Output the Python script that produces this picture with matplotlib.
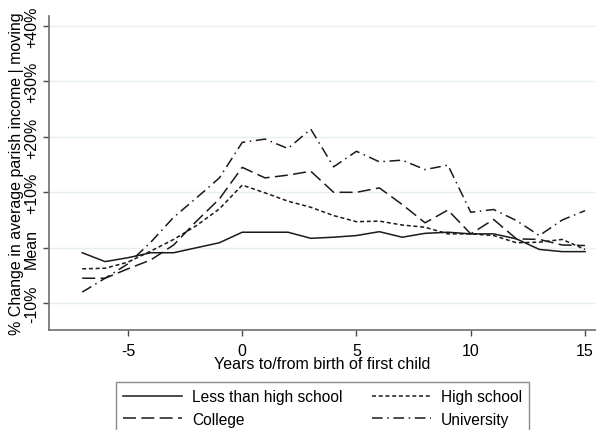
import matplotlib
matplotlib.use("Agg")
import matplotlib.pyplot as plt

plt.rcParams['font.family'] = ['Liberation Sans', 'DejaVu Sans']

years = list(range(-7, 16))

less_than_hs = [-0.9, -2.5, -1.8, -0.9, -0.9, 0.0, 0.9, 2.8, 2.8, 2.8, 1.7, 1.9,
                2.2, 2.9, 1.9, 2.6, 2.8, 2.5, 2.5, 1.6, -0.3, -0.7, -0.7]
high_school = [-3.8, -3.7, -2.6, -0.6, 1.5, 4.0, 7.0, 11.3, 9.9, 8.4, 7.3, 5.8,
               4.7, 4.8, 4.1, 3.7, 2.5, 2.5, 2.2, 0.9, 1.0, 1.5, -0.3]
college = [-5.5, -5.5, -3.8, -2.2, 0.5, 4.8, 8.8, 14.5, 12.6, 13.1, 13.8, 10.0,
           10.0, 10.8, 7.8, 4.5, 6.8, 2.5, 5.1, 1.6, 1.5, 0.5, 0.4]
university = [-8.0, -5.5, -2.9, 1.0, 5.5, 9.0, 12.6, 19.0, 19.6, 17.9, 21.4, 14.6,
              17.4, 15.5, 15.8, 14.1, 14.9, 6.4, 6.9, 4.9, 2.2, 5.0, 6.7]

x_ticks = [-5, 0, 5, 10, 15]
y_ticks = [-10, 0, 10, 20, 30, 40]
y_tick_labels = ['-10%', 'Mean', '+10%', '+20%', '+30%', '+40%']

line_color = '#1a1a1a'
fs = 11.5
fig = plt.figure(figsize=(5.96, 4.31), dpi=100)
ax = fig.add_axes([0.082, 0.232, 0.918, 0.729])

ax.set_xlim(-8.46, 15.48)
ax.set_ylim(-14.84, 41.84)

for y in y_ticks:
    ax.axhline(y, color='#e6eff2', lw=1.0, zorder=0)

h1, = ax.plot(years, less_than_hs, color=line_color, lw=1.1, ls='-',
              label='Less than high school')
h2, = ax.plot(years, high_school, color=line_color, lw=1.1, ls=(0, (2.6, 1.8)),
              label='High school')
h3, = ax.plot(years, college, color=line_color, lw=1.1, ls=(0, (8.5, 3.5)),
              label='College')
h4, = ax.plot(years, university, color=line_color, lw=1.1,
              ls=(0, (7, 3, 1, 3)), label='University')

ax.set_xticks(x_ticks)
ax.set_xticklabels([str(t) for t in x_ticks])
ax.set_yticks(y_ticks)
ax.set_yticklabels(y_tick_labels, rotation=90, va='center')

for side in ('top', 'right'):
    ax.spines[side].set_visible(False)
for side in ('left', 'bottom'):
    ax.spines[side].set_color('#6e6e6e')
    ax.spines[side].set_linewidth(1.2)

ax.tick_params(axis='both', direction='out', length=4, width=1.0,
               color='#4a4a4a', labelsize=fs, pad=3)
ax.tick_params(axis='x', pad=5)
ax.set_xlabel('Years to/from birth of first child', fontsize=fs, labelpad=-1)
ax.set_ylabel('% Change in average parish income | moving', fontsize=fs,
              labelpad=0)

leg = fig.legend(handles=[h1, h3, h2, h4], ncol=2, loc='upper center',
                 bbox_to_anchor=(0.541, 0.111), fontsize=11.2, frameon=True,
                 fancybox=False, edgecolor='#6e6e6e', handlelength=3.8,
                 handletextpad=0.65, columnspacing=1.85, borderpad=0.45,
                 labelspacing=0.5, borderaxespad=0)
leg.get_frame().set_linewidth(1.0)

fig.savefig('out.png', dpi=100, facecolor='white')
